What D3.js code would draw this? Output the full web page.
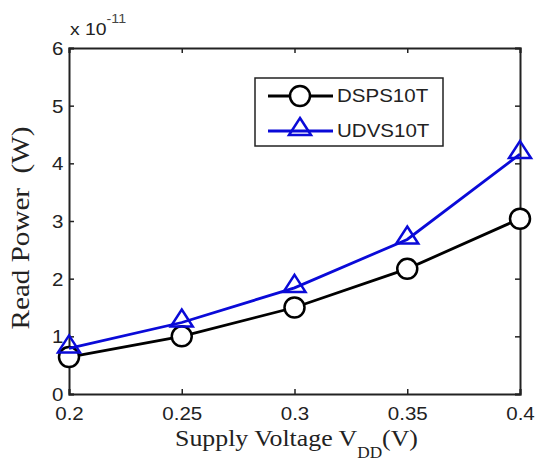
<!DOCTYPE html>
<html><head><meta charset="utf-8">
<script src="https://cdn.jsdelivr.net/npm/d3@7"></script>
<style>body{margin:0;background:#fff;} svg{display:block;}</style>
</head><body>
<svg id="c" width="536" height="463"></svg>
<script>
const voltages = [0.2, 0.25, 0.3, 0.35, 0.4];
const dsps10t = [0.64, 1.0, 1.5, 2.17, 3.04];
const udvs10t = [0.79, 1.24, 1.84, 2.68, 4.16];
const xTicks = [0.2, 0.25, 0.3, 0.35, 0.4];
const xTickLabels = ["0.2", "0.25", "0.3", "0.35", "0.4"];
const yTicks = [0, 1, 2, 3, 4, 5, 6];
const seriesNames = ["DSPS10T", "UDVS10T"];
const seriesColors = ["#000000", "#0a0ad8"];

const svg = d3.select("#c");
const L = 69, R = 520, T = 48, B = 394;
const x = d3.scaleLinear().domain([0.2, 0.4]).range([L, R]);
const y = d3.scaleLinear().domain([0, 6]).range([B, T]);
const tickFont = "Liberation Sans, Arial, sans-serif";
const serif = "Liberation Serif, Times New Roman, serif";
const SX = 1.14;

// axes (inner ticks)
const xAxis = d3.axisBottom(x).tickValues(xTicks).tickSize(-5).tickFormat((d,i)=>xTickLabels[i]).tickPadding(13);
const yAxis = d3.axisLeft(y).tickValues(yTicks).tickSize(-5).tickFormat(d3.format("d")).tickPadding(5);
const gx = svg.append("g").attr("transform", `translate(0,${B})`).call(xAxis);
const gy = svg.append("g").attr("transform", `translate(${L},0)`).call(yAxis);
const gxt = svg.append("g").attr("transform", `translate(0,${T})`).call(d3.axisTop(x).tickValues(xTicks).tickSize(-5).tickFormat(""));
const gyr = svg.append("g").attr("transform", `translate(${R},0)`).call(d3.axisRight(y).tickValues(yTicks).tickSize(-5).tickFormat(""));
[gx, gy, gxt, gyr].forEach(g => {
  g.select(".domain").attr("stroke", "#222").attr("stroke-width", 2);
  g.selectAll(".tick line").attr("stroke", "#222").attr("stroke-width", 1.5);
  g.selectAll(".tick text").attr("fill", "#222").style("font-family", tickFont).style("font-size", "18px");
});
gx.selectAll(".tick text").attr("dy", "0.75em").attr("transform", `scale(${SX},1)`);
gy.selectAll(".tick text").attr("dy", "0.36em").attr("transform", `scale(${SX},1)`);

// exponent
const ex = svg.append("text").attr("x", 70).attr("y", 35).attr("fill", "#222")
  .attr("transform", `translate(70,0) scale(${SX},1) translate(-70,0)`)
  .style("font-family", tickFont).style("font-size", "17px");
ex.append("tspan").text("x 10");
ex.append("tspan").attr("dy", -12).style("font-size", "12.5px").attr("fill", "#444").text("-11");

// axis labels
const xlg = svg.append("g");
const xl = xlg.append("text").attr("x", 0).attr("y", 0).attr("text-anchor", "middle")
  .attr("fill", "#222").style("font-family", serif).style("font-size", "24px");
xl.append("tspan").text("Supply Voltage V");
xl.append("tspan").attr("dy", 12).style("font-size", "16px").text("DD");
xl.append("tspan").attr("dy", -12).text("(V)");
const xw = xl.node().getBBox().width;
xlg.attr("transform", `translate(296.5,446) scale(${243 / xw},1)`);

const ylg = svg.append("g");
const yl = ylg.append("text").attr("text-anchor", "middle")
  .attr("fill", "#222").style("font-family", serif).style("font-size", "25px")
  .style("white-space", "pre").text("Read Power  (W)");
const yw = yl.node().getBBox().width;
ylg.attr("transform", `translate(29,228) rotate(-90) scale(${203 / yw},1)`);

// data
const series = [dsps10t, udvs10t];
const line = d3.line().x((d,i)=>x(voltages[i])).y(d=>y(d));
function marker(g, type, cx, cy, color) {
  if (type === 0) {
    g.append("circle").attr("cx", cx).attr("cy", cy).attr("r", 10)
      .attr("fill", "#fff").attr("stroke", color).attr("stroke-width", 2.5);
  } else {
    g.append("path").attr("d", `M${cx},${cy-13}L${cx+11},${cy+4}L${cx-11},${cy+4}Z`)
      .attr("fill", "none").attr("stroke", color).attr("stroke-width", 2.5);
  }
}
series.forEach((vals, s) => {
  const g = svg.append("g");
  g.append("path").attr("d", line(vals)).attr("fill", "none")
    .attr("stroke", seriesColors[s]).attr("stroke-width", 2.8);
  vals.forEach((v, i) => marker(g, s, x(voltages[i]), y(v), seriesColors[s]));
});

// legend
const lg = svg.append("g");
lg.append("rect").attr("x", 255).attr("y", 78).attr("width", 188).attr("height", 68)
  .attr("fill", "#fff").attr("stroke", "#222").attr("stroke-width", 1.5);
const rowsY = [96, 131];
seriesNames.forEach((n, s) => {
  const yy = rowsY[s];
  lg.append("line").attr("x1", 268).attr("x2", 333).attr("y1", yy).attr("y2", yy)
    .attr("stroke", seriesColors[s]).attr("stroke-width", 2.8);
  marker(lg, s, 300, yy, seriesColors[s]);
  lg.append("text").attr("x", 337).attr("y", yy).attr("dy", "0.36em").attr("fill", "#222")
    .attr("transform", `translate(337,0) scale(${SX},1) translate(-337,0)`)
    .style("font-family", tickFont).style("font-size", "18px").text(n);
});
</script>
</body></html>
